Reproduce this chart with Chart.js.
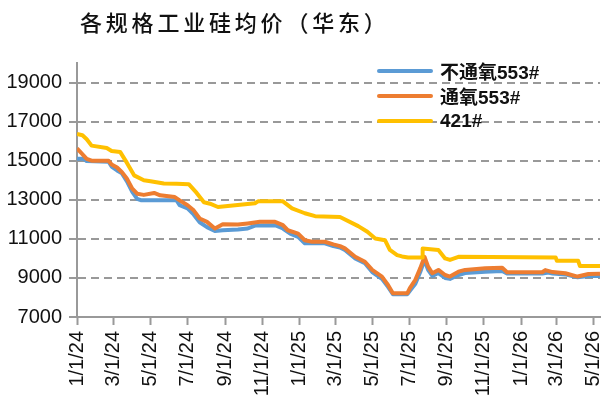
<!DOCTYPE html>
<html>
<head>
<meta charset="utf-8">
<script src="https://cdn.jsdelivr.net/npm/chart.js@4.4.1/dist/chart.umd.min.js"></script>
<style>
    body { margin: 0; background: #fff; }
    #wrap { position: relative; width: 605px; height: 403px; }
    #title {
        position: absolute; left: 80px; top: 5px;
        font-family: "Noto Sans CJK SC", sans-serif; font-size: 22px; font-weight: 500;
        letter-spacing: 3.8px; color: #111; white-space: nowrap;
    }
    #legend { position: absolute; left: 377px; top: 58px; }
    .item { display: flex; align-items: center; height: 25px; }
    .swatch { width: 56px; height: 4px; margin-right: 7px; border-radius: 2px; }
    .label { font-family: "Liberation Sans", "Noto Sans CJK SC", sans-serif; font-size: 19px; font-weight: bold; color: #111; white-space: nowrap; }
</style>
</head>
<body>
<div id="wrap">
    <canvas id="chart" width="605" height="403"></canvas>
    <div id="title">各规格工业硅均价（华东）</div>
    <div id="legend"></div>
</div>
<script>
// 数据
const seriesNames = ['不通氧553#', '通氧553#', '421#'];
const seriesColors = ['#5B9BD5', '#ED7D31', '#FFC000'];

const blueDates = ['2024-01-01','2024-01-12','2024-01-17','2024-02-22','2024-02-27','2024-03-07','2024-03-15','2024-03-23','2024-04-01','2024-04-09','2024-04-15','2024-06-13','2024-06-18','2024-07-01','2024-07-11','2024-07-21','2024-08-02','2024-08-15','2024-08-28','2024-09-22','2024-10-08','2024-10-20','2024-11-22','2024-12-05','2024-12-17','2024-12-30','2025-01-10','2025-02-12','2025-02-26','2025-03-09','2025-03-17','2025-04-03','2025-04-19','2025-05-01','2025-05-17','2025-05-27','2025-06-04','2025-06-28','2025-07-02','2025-07-11','2025-07-19','2025-07-26','2025-08-01','2025-08-08','2025-08-18','2025-08-29','2025-09-06','2025-09-20','2025-10-01','2025-11-03','2025-12-01','2025-12-09','2026-02-05','2026-02-15','2026-02-22','2026-03-15','2026-04-04','2026-04-22','2026-05-11'];
const blueValues = [15100,15100,14980,14950,14700,14500,14350,13950,13400,13050,12980,12970,12720,12560,12250,11850,11600,11400,11440,11480,11530,11680,11700,11530,11270,11100,10770,10770,10630,10560,10430,10000,9750,9300,8950,8540,8170,8170,8340,8700,9300,9920,9410,9100,9250,9000,8950,9150,9250,9320,9360,9220,9220,9280,9220,9180,9030,9100,9100];

const orangeDates = ['2024-01-01','2024-01-12','2024-01-17','2024-01-25','2024-02-22','2024-02-27','2024-03-07','2024-03-15','2024-03-23','2024-04-01','2024-04-09','2024-04-20','2024-05-07','2024-05-17','2024-06-10','2024-06-18','2024-07-01','2024-07-11','2024-07-21','2024-08-02','2024-08-15','2024-08-28','2024-09-22','2024-10-08','2024-10-28','2024-11-22','2024-12-05','2024-12-13','2024-12-30','2025-01-10','2025-01-22','2025-02-12','2025-02-26','2025-03-09','2025-03-17','2025-04-03','2025-04-19','2025-05-01','2025-05-17','2025-05-27','2025-06-04','2025-06-28','2025-07-02','2025-07-11','2025-07-19','2025-07-26','2025-08-01','2025-08-08','2025-08-18','2025-08-29','2025-09-06','2025-09-20','2025-10-01','2025-11-03','2025-12-01','2025-12-09','2026-02-05','2026-02-10','2026-02-22','2026-03-15','2026-04-04','2026-04-22','2026-05-11'];
const orangeValues = [15630,15260,15090,15000,15000,14800,14650,14410,14090,13570,13310,13250,13350,13230,13140,12970,12720,12460,12040,11870,11530,11750,11730,11790,11870,11870,11700,11440,11270,10930,10850,10850,10720,10630,10510,10080,9830,9410,9070,8640,8220,8220,8480,8900,9490,10080,9580,9240,9410,9150,9070,9320,9410,9490,9520,9290,9290,9400,9300,9240,9070,9200,9220];

const yellowDates = ['2024-01-01','2024-01-10','2024-01-17','2024-01-25','2024-02-19','2024-02-27','2024-03-12','2024-03-23','2024-04-04','2024-04-20','2024-05-01','2024-05-23','2024-06-13','2024-07-03','2024-07-16','2024-07-28','2024-08-07','2024-08-20','2024-10-20','2024-10-25','2024-12-05','2024-12-20','2025-01-10','2025-01-27','2025-03-09','2025-04-08','2025-04-23','2025-05-06','2025-05-22','2025-05-30','2025-06-11','2025-06-19','2025-06-29','2025-07-22','2025-07-23','2025-08-18','2025-08-29','2025-09-06','2025-09-20','2026-02-27','2026-03-01','2026-04-05','2026-04-08','2026-05-11'];
const yellowValues = [16370,16300,16100,15770,15650,15500,15450,14900,14250,14000,13950,13830,13820,13800,13350,12870,12800,12630,12820,12920,12920,12560,12310,12160,12120,11650,11360,11020,10930,10430,10170,10100,10050,10050,10510,10430,10000,9920,10080,10050,9880,9880,9610,9610];

const xTickDates = ['2024-01-01','2024-03-01','2024-05-01','2024-07-01','2024-09-01','2024-11-01','2025-01-01','2025-03-01','2025-05-01','2025-07-01','2025-09-01','2025-11-01','2026-01-01','2026-03-01','2026-05-01'];
const yTicks = [7000, 9000, 11000, 13000, 15000, 17000, 19000];

const toMs = s => Date.parse(s + 'T00:00:00Z');
const toPoints = (ds, vs) => ds.map((d, i) => ({ x: toMs(d), y: vs[i] }));

// 범례
const legendEl = document.getElementById('legend');
seriesNames.forEach((name, i) => {
    const row = document.createElement('div');
    row.className = 'item';
    row.innerHTML = `<span class="swatch" style="background:${seriesColors[i]}"></span><span class="label">${name}</span>`;
    legendEl.appendChild(row);
});

const ctx = document.getElementById('chart').getContext('2d');
new Chart(ctx, {
    type: 'line',
    data: {
        datasets: [
            { label: seriesNames[0], data: toPoints(blueDates, blueValues), borderColor: seriesColors[0], order: 2 },
            { label: seriesNames[1], data: toPoints(orangeDates, orangeValues), borderColor: seriesColors[1], order: 1 },
            { label: seriesNames[2], data: toPoints(yellowDates, yellowValues), borderColor: seriesColors[2], order: 0 }
        ]
    },
    options: {
        responsive: false,
        devicePixelRatio: 1,
        animation: false,
        layout: { autoPadding: false, padding: { top: 63, right: 5, left: 0, bottom: 0 } },
        elements: {
            line: { borderWidth: 4, tension: 0, borderJoinStyle: 'round' },
            point: { radius: 0 }
        },
        plugins: { legend: { display: false }, tooltip: { enabled: false } },
        scales: {
            x: {
                type: 'linear',
                min: toMs(xTickDates[0]),
                max: toMs('2026-05-11'),
                afterBuildTicks: scale => { scale.ticks = xTickDates.map(d => ({ value: toMs(d) })); },
                afterFit: scale => {
                    scale.height = 86;
                    scale.paddingLeft = 0;
                    scale.paddingRight = 0;
                },
                ticks: {
                    autoSkip: false, maxRotation: 90, minRotation: 90, padding: 6,
                    color: '#111',
                    font: { family: 'Liberation Sans', size: 20 },
                    callback: v => {
                        const d = new Date(v);
                        return (d.getUTCMonth() + 1) + '/' + d.getUTCDate() + '/' + String(d.getUTCFullYear()).slice(2);
                    }
                },
                grid: { drawOnChartArea: false, tickLength: 8, tickColor: '#999', tickWidth: 2 },
                border: { color: '#999', width: 2 }
            },
            y: {
                min: 7000,
                max: 20000,
                afterBuildTicks: scale => { scale.ticks = yTicks.map(v => ({ value: v })); },
                afterFit: scale => { scale.width = 77; },
                ticks: {
                    padding: 7, color: '#111',
                    font: { family: 'Liberation Sans', size: 20 },
                    callback: v => String(v)
                },
                grid: {
                    color: c => (c.tick && c.tick.value === 7000) ? 'rgba(0,0,0,0)' : '#999',
                    lineWidth: 2, tickLength: 8, tickColor: '#999', tickWidth: 2
                },
                border: { color: '#999', width: 2, dash: [8, 5] }
            }
        }
    }
});
</script>
</body>
</html>
